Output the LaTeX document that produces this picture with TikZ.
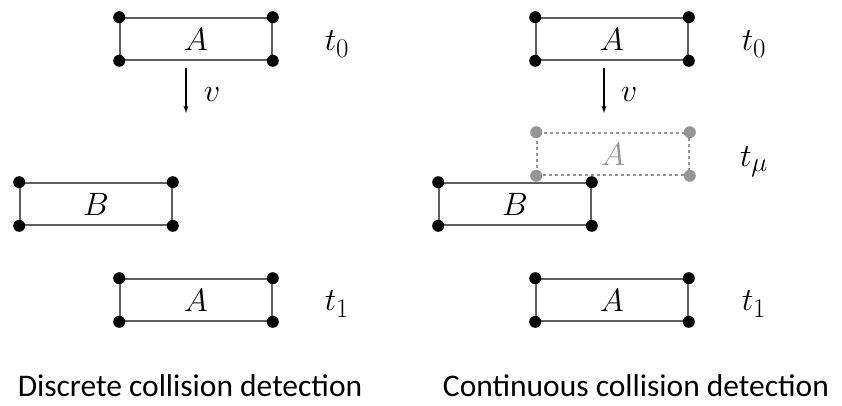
\documentclass[tikz,border=0pt]{standalone}
\usepackage[no-math]{fontspec}
\setmainfont{Carlito}
\usepackage{graphicx}
\usepackage{tikz}
\usetikzlibrary{positioning,calc}
\definecolor{edgegray}{RGB}{95,95,95}
\definecolor{ghostgray}{RGB}{150,150,150}
\newcommand{\bigmath}[1]{\scalebox{1.3}{\Huge$#1$}}
\tikzset{
  objbox/.style={draw=edgegray,line width=1.6pt,minimum width=152pt,minimum height=42pt,inner sep=0pt},
  ghostbox/.style={objbox,draw=ghostgray,dash pattern=on 3pt off 3pt,text=ghostgray},
  timelabel/.style={inner sep=0pt},
  caption/.style={font=\fontsize{31.5}{36}\selectfont},
  motion/.style={-latex,line width=1.3pt}
}
\newcommand{\cornerdots}[2][black]{%
  \foreach \c in {north west,north east,south west,south east}
    \fill[#1] (#2.\c) circle (6pt);}
\begin{document}
\begin{tikzpicture}[x=1pt,y=-1pt]
  \useasboundingbox (0,0) rectangle (842,405);
  % discrete collision detection
  \node[objbox] (atop) at (196,39) {\bigmath{A}};
  \cornerdots{atop}
  \node[timelabel] (tzero) at (337,44) {\bigmath{t_0}};
  \coordinate (vstart) at (186,68);
  \coordinate (vend) at (186,113);
  \draw[motion] (vstart) -- (vend);
  \node[timelabel] (vel) at (212,95) {\bigmath{v}};
  \node[objbox] (bleft) at (96,204) {\bigmath{B}};
  \cornerdots{bleft}
  \node[objbox] (abot) at (196,300) {\bigmath{A}};
  \cornerdots{abot}
  \node[timelabel] (tone) at (337,304) {\bigmath{t_1}};
  \node[caption] (capd) at (190,386) {Discrete collision detection};
  % continuous collision detection
  \node[objbox] (ctop) at (612,39) {\bigmath{A}};
  \cornerdots{ctop}
  \node[timelabel] (czero) at (754,44) {\bigmath{t_0}};
  \coordinate (cvstart) at (604,68);
  \coordinate (cvend) at (604,113);
  \draw[motion] (cvstart) -- (cvend);
  \node[timelabel] (cvel) at (629,95) {\bigmath{v}};
  \node[ghostbox] (cmid) at (613,154) {\bigmath{A}};
  \cornerdots[ghostgray]{cmid}
  \node[timelabel] (cmu) at (754,162) {\bigmath{t_\mu}};
  \node[objbox] (cb) at (515,204) {\bigmath{B}};
  \cornerdots{cb}
  \node[objbox] (cbot) at (612,300) {\bigmath{A}};
  \cornerdots{cbot}
  \node[timelabel] (cone) at (754,304) {\bigmath{t_1}};
  \node[caption] (capc) at (636,386) {Continuous collision detection};
\end{tikzpicture}
\end{document}
